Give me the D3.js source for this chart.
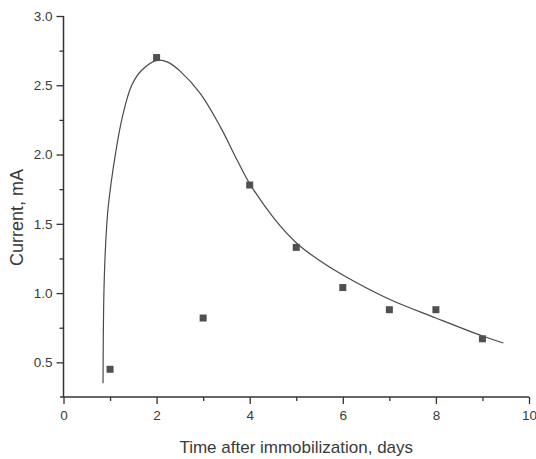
<!DOCTYPE html>
<html>
<head>
<meta charset="utf-8">
<script src="https://cdn.jsdelivr.net/npm/d3@7"></script>
<style>
  html, body { margin: 0; padding: 0; background: #fff; }
  svg { display: block; }
  text { font-family: "Liberation Sans", Arial, sans-serif; fill: #3a3a3a; }
</style>
</head>
<body>
<svg id="chart" width="536" height="459"></svg>
<script>
// Measured data (squares)
const days = [1, 2, 3, 4, 5, 6, 7, 8, 9];
const current = [0.45, 2.70, 0.82, 1.78, 1.33, 1.04, 0.88, 0.88, 0.67];

// Fitted curve
const curveX = [0.849, 0.868, 0.905, 0.960, 1.117, 1.257, 1.465, 1.686, 2.01, 2.25, 2.51, 2.94, 3.37, 3.73, 4.00, 4.51, 5.01, 5.50, 6.00, 7.00, 8.00, 9.00, 9.45];
const curveY = [0.35, 1.00, 1.35, 1.62, 2.007, 2.26, 2.50, 2.61, 2.68, 2.665, 2.60, 2.44, 2.20, 1.96, 1.79, 1.545, 1.36, 1.235, 1.13, 0.955, 0.82, 0.69, 0.64];

const xTicks = [0, 2, 4, 6, 8, 10];
const xMinor = [1, 3, 5, 7, 9];
const yTicks = [0.5, 1.0, 1.5, 2.0, 2.5, 3.0];
const yMinor = [0.75, 1.25, 1.75, 2.25, 2.75];

const xTitle = "Time after immobilization, days";
const yTitle = "Current, mA";

const svg = d3.select("#chart");
const x = d3.scaleLinear().domain([0, 10]).range([63.5, 529]);
const y = d3.scaleLinear().domain([0.25, 3.0]).range([397, 16]);
const axisColor = "#333";

// Minor and major ticks
const gx = svg.append("g").attr("transform", `translate(0,${y(0.25)})`);
gx.call(d3.axisBottom(x).tickValues(xMinor).tickSize(4).tickSizeOuter(0).tickFormat(""));
gx.select(".domain").remove();
const gx2 = svg.append("g").attr("transform", `translate(0,${y(0.25)})`);
gx2.call(d3.axisBottom(x).tickValues(xTicks).tickSize(7).tickSizeOuter(0).tickPadding(6).tickFormat(d3.format("d")));
gx2.select(".domain").remove();

const gy = svg.append("g").attr("transform", `translate(${x(0)},0)`);
gy.call(d3.axisLeft(y).tickValues(yMinor).tickSize(4).tickSizeOuter(0).tickFormat(""));
gy.select(".domain").remove();
const gy2 = svg.append("g").attr("transform", `translate(${x(0)},0)`);
gy2.call(d3.axisLeft(y).tickValues(yTicks).tickSize(7).tickSizeOuter(0).tickPadding(4).tickFormat(d3.format(".1f")));
gy2.select(".domain").remove();

svg.selectAll(".tick line").attr("stroke", axisColor).attr("stroke-width", 1.3);
svg.selectAll(".tick text").attr("font-size", 13.5).attr("fill", "#3a3a3a")
   .style("font-family", '"Liberation Sans", Arial, sans-serif');

// Axis lines
svg.append("line").attr("x1", x(0)).attr("x2", x(0)).attr("y1", y(3.0)).attr("y2", y(0.25))
   .attr("stroke", axisColor).attr("stroke-width", 1.5);
svg.append("line").attr("x1", x(0) - 3.5).attr("x2", x(10)).attr("y1", y(0.25)).attr("y2", y(0.25))
   .attr("stroke", axisColor).attr("stroke-width", 1.5);

// Curve
const curvePts = curveX.map((d, i) => [d, curveY[i]]);
svg.append("path").datum(curvePts)
   .attr("fill", "none").attr("stroke", "#4a4a4a").attr("stroke-width", 1.2)
   .attr("d", d3.line().x(d => x(d[0])).y(d => y(d[1])).curve(d3.curveCatmullRom.alpha(0.5)));

// Squares
const sz = 7;
svg.selectAll("rect.pt").data(days).enter().append("rect").attr("class", "pt")
   .attr("x", d => x(d) - sz / 2)
   .attr("y", (d, i) => y(current[i]) - sz / 2)
   .attr("width", sz).attr("height", sz)
   .attr("fill", "#505050");

// Titles
svg.append("text").attr("x", (x(0) + x(10)) / 2).attr("y", 453)
   .attr("text-anchor", "middle").attr("font-size", 17).text(xTitle);
svg.append("text").attr("transform", `translate(23,${(y(3.0) + y(0.25)) / 2 + 11}) rotate(-90)`)
   .attr("text-anchor", "middle").attr("font-size", 18).text(yTitle);
</script>
</body>
</html>
